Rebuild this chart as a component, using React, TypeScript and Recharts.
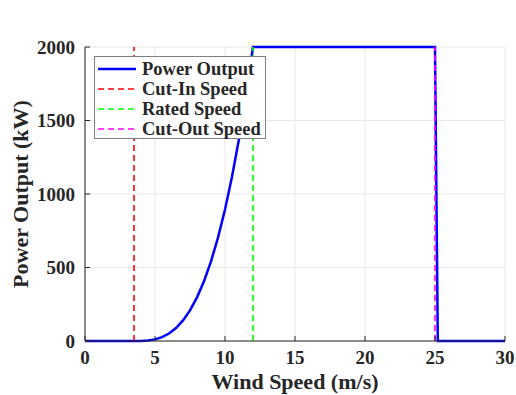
import React from 'react';
import { LineChart, Line, XAxis, YAxis, CartesianGrid, ReferenceLine, Label } from 'recharts';

const speeds = [0, 3.5, 4, 4.5, 5, 5.5, 6, 6.5, 7, 7.5, 8, 8.5, 9, 9.5, 10, 10.5, 11, 11.5, 12, 25, 25.2, 30];
const power = [0, 0, 0.4, 3, 11, 26, 51, 88, 140, 208, 297, 407, 542, 703, 894, 1117, 1374, 1667, 2000, 2000, 0, 0];

const markerNames = ['Cut-In Speed', 'Rated Speed', 'Cut-Out Speed'];
const markerSpeeds = [3.5, 12, 25];
const seriesName = 'Power Output';

const xTicks = [0, 5, 10, 15, 20, 25, 30];
const yTicks = [0, 500, 1000, 1500, 2000];

const markerColors = ['#ff0000', '#00ff00', '#ff00ff'];
const FONT = '"Liberation Serif", "Times New Roman", serif';
const TXT = '#262626';

const data = speeds.map((v, i) => ({ v, p: power[i] }));

export default function App() {
  const tickStyle = { fontFamily: FONT, fontWeight: 700, fontSize: 19, fill: TXT };
  const labelStyle = { fontFamily: FONT, fontWeight: 700, fontSize: 22, fill: TXT };
  return (
    <div style={{ position: 'absolute', left: 0, top: 0, width: 516, height: 395, background: '#fff', overflow: 'hidden' }}>
      <LineChart width={516} height={395} data={data} margin={{ top: 47, right: 11, left: 0, bottom: 0 }}>
        <CartesianGrid stroke="#e8e8e8" strokeWidth={1} vertical horizontal />
        <XAxis
          dataKey="v"
          type="number"
          domain={[0, 30]}
          ticks={xTicks}
          height={54}
          stroke={TXT}
          tickSize={-5}
          tickMargin={15}
          tick={tickStyle}
          axisLine={{ stroke: TXT }}
          tickLine={{ stroke: TXT }}
        >
          <Label value="Wind Speed (m/s)" position="insideBottom" offset={6} style={{ ...labelStyle, textAnchor: 'middle' }} />
        </XAxis>
        <XAxis
          xAxisId="top"
          orientation="top"
          type="number"
          domain={[0, 30]}
          ticks={xTicks}
          height={0}
          stroke={TXT}
          tickSize={-5}
          tickFormatter={() => ''}
        />
        <YAxis
          type="number"
          domain={[0, 2000]}
          ticks={yTicks}
          width={85}
          stroke={TXT}
          tickSize={-5}
          tickMargin={15}
          tick={tickStyle}
        >
          <Label value="Power Output (kW)" angle={-90} position="insideLeft" offset={20} style={{ ...labelStyle, textAnchor: 'middle' }} />
        </YAxis>
        <YAxis
          yAxisId="right"
          orientation="right"
          type="number"
          domain={[0, 2000]}
          ticks={yTicks}
          width={0}
          stroke={TXT}
          tickSize={-5}
          tickFormatter={() => ''}
        />
        <Line type="linear" dataKey="p" name={seriesName} stroke="#0000ff" strokeWidth={2.5} dot={false} isAnimationActive={false} />
        {markerSpeeds.map((s, i) => (
          <ReferenceLine key={markerNames[i]} x={s} stroke={markerColors[i]} strokeWidth={1.6} strokeDasharray="6 4" />
        ))}
      </LineChart>
      <div
        style={{
          position: 'absolute',
          left: 94,
          top: 56,
          width: 172,
          height: 83,
          border: '1px solid #7f7f7f',
          background: '#fff',
          boxSizing: 'border-box',
          paddingTop: 2,
        }}
      >
        {[seriesName, ...markerNames].map((n, i) => (
          <div key={n} style={{ display: 'flex', alignItems: 'center', height: 20, fontFamily: FONT, fontWeight: 700, fontSize: 18.5, color: TXT, lineHeight: '20px' }}>
            <svg width={46} height={20} style={{ flex: 'none' }}>
              <line
                x1={3}
                x2={41}
                y1={10}
                y2={10}
                stroke={i === 0 ? '#0000ff' : markerColors[i - 1]}
                strokeWidth={i === 0 ? 2.5 : 1.6}
                strokeDasharray={i === 0 ? undefined : '6 4'}
              />
            </svg>
            <span style={{ marginLeft: 1, whiteSpace: 'nowrap' }}>{n}</span>
          </div>
        ))}
      </div>
    </div>
  );
}
